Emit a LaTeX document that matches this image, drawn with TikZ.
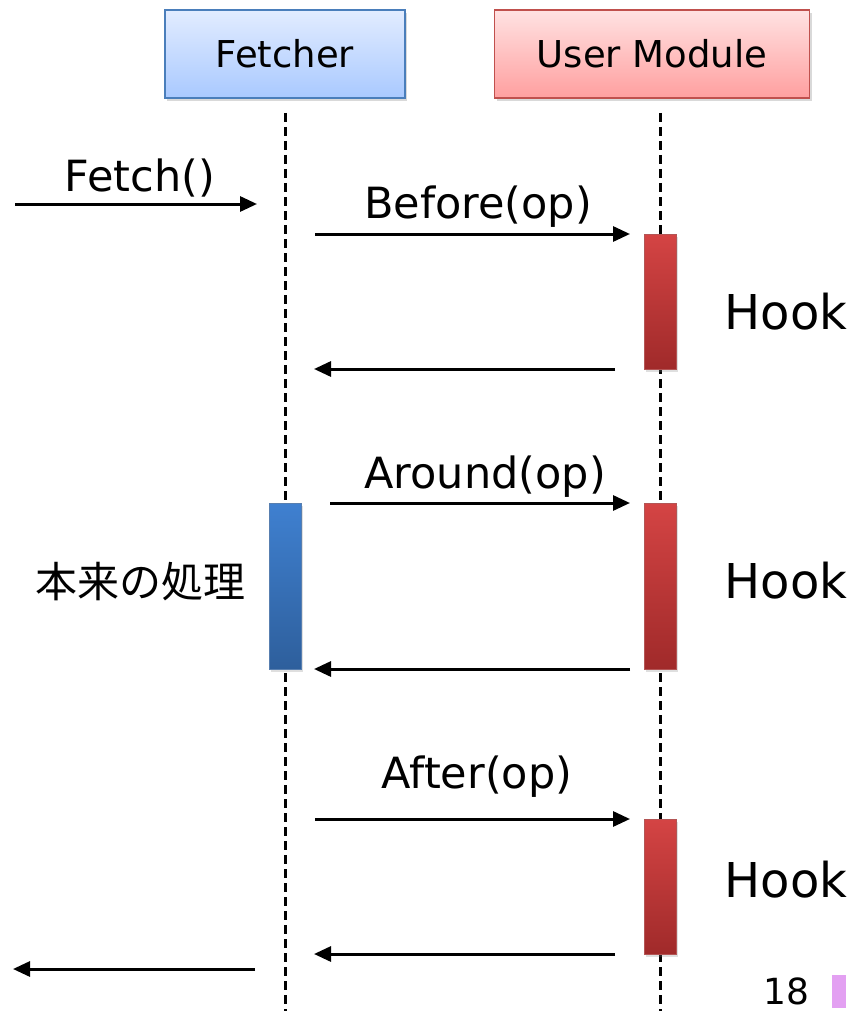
\documentclass[tikz,border=0pt]{standalone}
\usepackage{fontspec}
\setmainfont{DejaVu Sans}
\newfontfamily\cjkfont{Noto Sans CJK JP}
\usetikzlibrary{arrows.meta,shadows}
\definecolor{fboxtop}{HTML}{E2ECFF}
\definecolor{fboxbot}{HTML}{A9C9FF}
\definecolor{fboxline}{HTML}{4A7EBB}
\definecolor{uboxtop}{HTML}{FFE2E2}
\definecolor{uboxbot}{HTML}{FF9F9F}
\definecolor{uboxline}{HTML}{C0504D}
\definecolor{redtop}{HTML}{D44444}
\definecolor{redbot}{HTML}{A02A2A}
\definecolor{bluetop}{HTML}{3F80D0}
\definecolor{bluebot}{HTML}{2E5F9C}
\definecolor{pinkmark}{HTML}{E3A0F2}
\tikzset{
  header/.style={draw, line width=1.5pt, minimum height=88pt, inner sep=0pt,
    font=\fontsize{37}{40}\selectfont,
    drop shadow={shadow xshift=2pt, shadow yshift=-3pt, opacity=0.3}},
  redbar/.style={draw=redbot!80, line width=0.8pt, top color=redtop, bottom color=redbot,
    minimum width=32pt, inner sep=0pt, anchor=north,
    drop shadow={shadow xshift=2pt, shadow yshift=-3pt, opacity=0.25}},
  bluebar/.style={draw=bluebot!80, line width=0.8pt, top color=bluetop, bottom color=bluebot,
    minimum width=32pt, inner sep=0pt, anchor=north,
    drop shadow={shadow xshift=2pt, shadow yshift=-3pt, opacity=0.25}},
  msg/.style={line width=3pt, -{Triangle[length=17pt,width=15pt]}},
  lifeline/.style={line width=3pt, dash pattern=on 9pt off 5pt},
  lbl/.style={font=\fontsize{43}{46}\selectfont, inner sep=0pt},
  hook/.style={font=\fontsize{48}{52}\selectfont, inner sep=0pt},
}
\begin{document}
\begin{tikzpicture}[x=1pt,y=-1pt]
\useasboundingbox (0,0) rectangle (864,1011);
% headers
\node[header, fboxline, top color=fboxtop, bottom color=fboxbot, text=black, minimum width=240pt] (fetcher) at (285,54) {Fetcher};
\node[header, uboxline, top color=uboxtop, bottom color=uboxbot, text=black, minimum width=315pt] (user) at (652,54) {User Module};
% lifelines
\coordinate (fl0) at (285,113);
\coordinate (fl1) at (285,1011);
\coordinate (ul0) at (660,113);
\coordinate (ul1) at (660,1011);
\draw[lifeline] (fl0) -- (fl1);
\draw[lifeline] (ul0) -- (ul1);
% activation bars
\node[redbar, minimum height=135pt] (h1) at (660,234) {};
\node[redbar, minimum height=166pt] (h2) at (660,503) {};
\node[bluebar, minimum height=166pt] (orig) at (285,503) {};
\node[redbar, minimum height=135pt] (h3) at (660,819) {};
% Fetch() call
\coordinate (in0) at (15,204);
\coordinate (in1) at (257,204);
\draw[msg] (in0) -- (in1);
\node[lbl] (fetchlbl) at (140,178) {Fetch()};
% Before
\coordinate (b0) at (315,234);
\coordinate (b1) at (630,234);
\draw[msg] (b0) -- (b1);
\node[lbl] (beforelbl) at (478,207) {Before(op)};
\coordinate (r1a) at (615,369);
\coordinate (r1b) at (314,369);
\draw[msg] (r1a) -- (r1b);
\node[hook] (hook1) at (786,312) {Hook};
% Around
\coordinate (a0) at (330,503);
\coordinate (a1) at (630,503);
\draw[msg] (a0) -- (a1);
\node[lbl] (aroundlbl) at (485,477) {Around(op)};
\coordinate (r2a) at (630,669);
\coordinate (r2b) at (314,669);
\draw[msg] (r2a) -- (r2b);
\node[hook] (hook2) at (786,581) {Hook};
\node[font=\cjkfont\fontsize{42}{46}\selectfont, inner sep=0pt] (origlbl) at (140,582) {本来の処理};
% After
\coordinate (f0) at (315,819);
\coordinate (f1) at (630,819);
\draw[msg] (f0) -- (f1);
\node[lbl] (afterlbl) at (477,777) {After(op)};
\coordinate (r3a) at (615,954);
\coordinate (r3b) at (314,954);
\draw[msg] (r3a) -- (r3b);
\node[hook] (hook3) at (786,880) {Hook};
% return
\coordinate (o0) at (255,969);
\coordinate (o1) at (13,969);
\draw[msg] (o0) -- (o1);
% page number
\node[font=\fontsize{36}{38}\selectfont, inner sep=0pt] (pagenum) at (786,991) {18};
\fill[pinkmark] (832,975) rectangle (846,1008);
\end{tikzpicture}
\end{document}
